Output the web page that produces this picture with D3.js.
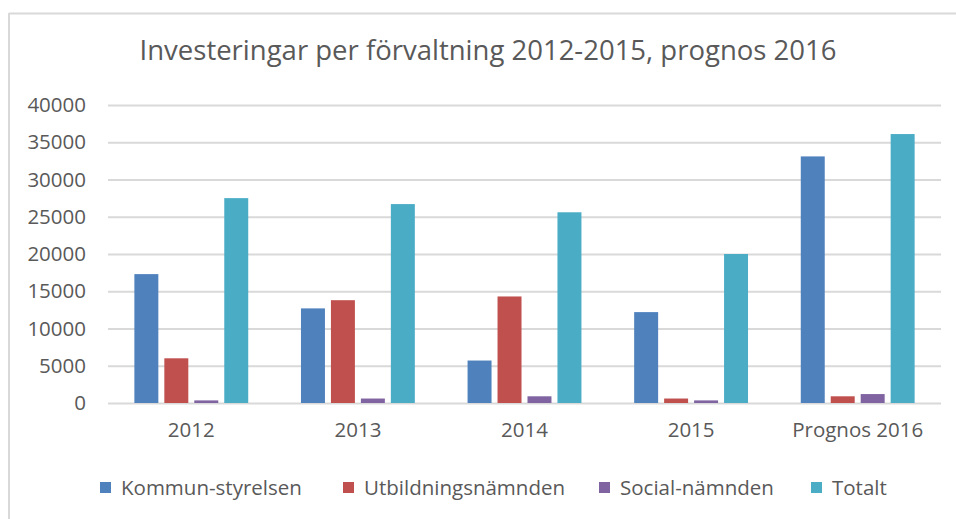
<!DOCTYPE html>
<html>
<head>
<meta charset="utf-8">
<script src="https://cdn.jsdelivr.net/npm/d3@7"></script>
<style>
  body { margin: 0; background: #fff; }
  text { font-family: "Open Sans", sans-serif; fill: #595959; }
</style>
</head>
<body>
<script>
var width = 956
var height = 519

var years = ['2012', '2013', '2014', '2015', 'Prognos 2016']
var series = ['Kommun-styrelsen', 'Utbildningsnämnden', 'Social-nämnden', 'Totalt']
var kommun = [17300, 12700, 5700, 12200, 33100]
var utbildning = [6000, 13800, 14300, 600, 900]
var social = [350, 600, 900, 350, 1200]
var totalt = [27500, 26700, 25600, 20000, 36100]
var yTicks = [0, 5000, 10000, 15000, 20000, 25000, 30000, 35000, 40000]
var colors = ['#4f81bd', '#c0504d', '#8064a2', '#4bacc6']

var values = [kommun, utbildning, social, totalt]

var svg = d3.select('body')
	.append('svg')
	.attr('width', width)
	.attr('height', height)

// frame (only top and left edges show in the picture)
svg.append('line')
	.attr('x1', 9).attr('x2', width)
	.attr('y1', 13.5).attr('y2', 13.5)
	.attr('stroke', '#d9d9d9').attr('stroke-width', 2)
svg.append('line')
	.attr('x1', 9).attr('x2', 9)
	.attr('y1', 13).attr('y2', height)
	.attr('stroke', '#d9d9d9').attr('stroke-width', 2)

svg.append('text')
	.attr('x', 488)
	.attr('y', 60)
	.attr('text-anchor', 'middle')
	.attr('font-size', 27.5)
	.text('Investeringar per förvaltning 2012-2015, prognos 2016')

var x0 = d3.scaleBand()
	.domain(years)
	.range([108, 941])

var x1 = d3.scaleBand()
	.domain(series)
	.range([0, x0.bandwidth()])
	.paddingInner(0.2)
	.paddingOuter(0.88)

var y = d3.scaleLinear()
	.domain([0, 40000])
	.range([403, 105])

// gridlines + y labels
var yAxis = svg.append('g')
	.attr('transform', 'translate(108,0)')
	.call(d3.axisLeft(y).tickValues(yTicks).tickFormat(d3.format('d')).tickSize(-833).tickPadding(22))
yAxis.select('.domain').remove()
yAxis.selectAll('line').attr('stroke', '#d9d9d9').attr('stroke-width', 2)
yAxis.selectAll('text')
	.attr('font-size', 20.5)
	.attr('font-family', '"Open Sans", sans-serif')
	.attr('fill', '#595959')

var groups = svg.selectAll('.year')
	.data(years)
	.enter()
	.append('g')
	.attr('class', 'year')
	.attr('transform', function(d) { return 'translate(' + x0(d) + ',0)' })

groups.selectAll('rect')
	.data(function(d, i) {
		return series.map(function(s, j) { return {s: s, v: values[j][i], c: colors[j]} })
	})
	.enter()
	.append('rect')
	.attr('x', function(d) { return x1(d.s) })
	.attr('y', function(d) { return y(d.v) })
	.attr('width', x1.bandwidth())
	.attr('height', function(d) { return y(0) - y(d.v) })
	.attr('fill', function(d) { return d.c })

// x labels
var xAxis = svg.append('g')
	.attr('transform', 'translate(0,403)')
	.call(d3.axisBottom(x0).tickSize(0).tickPadding(19))
xAxis.select('.domain').remove()
xAxis.selectAll('text')
	.attr('font-size', 20.5)
	.attr('font-family', '"Open Sans", sans-serif')
	.attr('fill', '#595959')

// legend
var legendX = [100, 343, 599, 811]
var legend = svg.selectAll('.legend')
	.data(series)
	.enter()
	.append('g')
	.attr('class', 'legend')
	.attr('transform', function(d, i) { return 'translate(' + legendX[i] + ',482)' })

legend.append('rect')
	.attr('width', 11)
	.attr('height', 11)
	.attr('fill', function(d, i) { return colors[i] })

legend.append('text')
	.attr('x', 21)
	.attr('y', 13)
	.attr('font-size', 20.5)
	.text(function(d) { return d })
</script>
</body>
</html>
